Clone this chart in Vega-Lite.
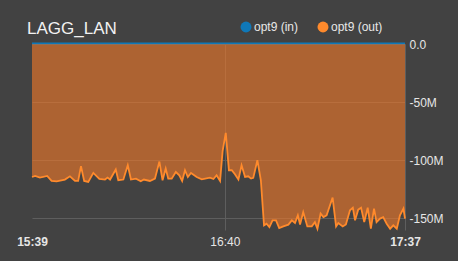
{
  "$schema": "https://vega.github.io/schema/vega-lite/v6.json",
  "autosize": "none",
  "width": 373,
  "height": 186,
  "padding": {"left": 32, "top": 44, "right": 53, "bottom": 31},
  "background": "#424242",
  "title": {
    "text": "LAGG_LAN",
    "anchor": "start",
    "frame": "group",
    "font": "Liberation Sans",
    "fontSize": 17,
    "fontWeight": "normal",
    "color": "#f2f2f2",
    "offset": 10,
    "dx": -5,
    "dy": 27
  },
  "data": {
    "values": [
      {"t": "2024-01-01T15:39:00", "s": "opt9 (in)", "v": 0.6},
      {"t": "2024-01-01T15:55:00", "s": "opt9 (in)", "v": 0.6},
      {"t": "2024-01-01T16:10:00", "s": "opt9 (in)", "v": 0.6},
      {"t": "2024-01-01T16:25:00", "s": "opt9 (in)", "v": 0.6},
      {"t": "2024-01-01T16:40:00", "s": "opt9 (in)", "v": 0.6},
      {"t": "2024-01-01T16:55:00", "s": "opt9 (in)", "v": 0.6},
      {"t": "2024-01-01T17:10:00", "s": "opt9 (in)", "v": 0.6},
      {"t": "2024-01-01T17:25:00", "s": "opt9 (in)", "v": 0.6},
      {"t": "2024-01-01T17:37:00", "s": "opt9 (in)", "v": 0.6},
      {"t": "2024-01-01T15:39:00", "s": "opt9 (out)", "v": -114.4},
      {"t": "2024-01-01T15:40:00", "s": "opt9 (out)", "v": -113.5},
      {"t": "2024-01-01T15:41:30", "s": "opt9 (out)", "v": -114.9},
      {"t": "2024-01-01T15:43:48", "s": "opt9 (out)", "v": -113.5},
      {"t": "2024-01-01T15:45:12", "s": "opt9 (out)", "v": -117.8},
      {"t": "2024-01-01T15:46:48", "s": "opt9 (out)", "v": -118.1},
      {"t": "2024-01-01T15:49:24", "s": "opt9 (out)", "v": -116.6},
      {"t": "2024-01-01T15:51:00", "s": "opt9 (out)", "v": -113.8},
      {"t": "2024-01-01T15:52:36", "s": "opt9 (out)", "v": -117.8},
      {"t": "2024-01-01T15:53:36", "s": "opt9 (out)", "v": -117.8},
      {"t": "2024-01-01T15:54:30", "s": "opt9 (out)", "v": -105.2},
      {"t": "2024-01-01T15:55:30", "s": "opt9 (out)", "v": -117.8},
      {"t": "2024-01-01T15:56:48", "s": "opt9 (out)", "v": -118.7},
      {"t": "2024-01-01T15:58:24", "s": "opt9 (out)", "v": -110.9},
      {"t": "2024-01-01T16:00:18", "s": "opt9 (out)", "v": -116.1},
      {"t": "2024-01-01T16:02:06", "s": "opt9 (out)", "v": -116.6},
      {"t": "2024-01-01T16:02:54", "s": "opt9 (out)", "v": -114.9},
      {"t": "2024-01-01T16:03:42", "s": "opt9 (out)", "v": -116.6},
      {"t": "2024-01-01T16:05:30", "s": "opt9 (out)", "v": -108.0},
      {"t": "2024-01-01T16:06:18", "s": "opt9 (out)", "v": -117.2},
      {"t": "2024-01-01T16:07:54", "s": "opt9 (out)", "v": -116.6},
      {"t": "2024-01-01T16:09:18", "s": "opt9 (out)", "v": -104.3},
      {"t": "2024-01-01T16:10:18", "s": "opt9 (out)", "v": -116.6},
      {"t": "2024-01-01T16:11:54", "s": "opt9 (out)", "v": -115.8},
      {"t": "2024-01-01T16:13:24", "s": "opt9 (out)", "v": -118.1},
      {"t": "2024-01-01T16:14:24", "s": "opt9 (out)", "v": -116.6},
      {"t": "2024-01-01T16:16:18", "s": "opt9 (out)", "v": -117.8},
      {"t": "2024-01-01T16:17:54", "s": "opt9 (out)", "v": -115.8},
      {"t": "2024-01-01T16:19:18", "s": "opt9 (out)", "v": -101.1},
      {"t": "2024-01-01T16:20:18", "s": "opt9 (out)", "v": -117.2},
      {"t": "2024-01-01T16:21:18", "s": "opt9 (out)", "v": -107.1},
      {"t": "2024-01-01T16:22:06", "s": "opt9 (out)", "v": -115.8},
      {"t": "2024-01-01T16:23:12", "s": "opt9 (out)", "v": -115.8},
      {"t": "2024-01-01T16:24:30", "s": "opt9 (out)", "v": -110.1},
      {"t": "2024-01-01T16:25:36", "s": "opt9 (out)", "v": -112.9},
      {"t": "2024-01-01T16:26:30", "s": "opt9 (out)", "v": -117.8},
      {"t": "2024-01-01T16:27:24", "s": "opt9 (out)", "v": -108.6},
      {"t": "2024-01-01T16:28:18", "s": "opt9 (out)", "v": -114.4},
      {"t": "2024-01-01T16:29:18", "s": "opt9 (out)", "v": -110.9},
      {"t": "2024-01-01T16:31:06", "s": "opt9 (out)", "v": -114.4},
      {"t": "2024-01-01T16:32:42", "s": "opt9 (out)", "v": -116.4},
      {"t": "2024-01-01T16:35:18", "s": "opt9 (out)", "v": -114.9},
      {"t": "2024-01-01T16:36:24", "s": "opt9 (out)", "v": -116.1},
      {"t": "2024-01-01T16:37:24", "s": "opt9 (out)", "v": -112.9},
      {"t": "2024-01-01T16:38:30", "s": "opt9 (out)", "v": -117.8},
      {"t": "2024-01-01T16:39:18", "s": "opt9 (out)", "v": -92.2},
      {"t": "2024-01-01T16:40:18", "s": "opt9 (out)", "v": -76.5},
      {"t": "2024-01-01T16:41:18", "s": "opt9 (out)", "v": -108.6},
      {"t": "2024-01-01T16:42:12", "s": "opt9 (out)", "v": -108.6},
      {"t": "2024-01-01T16:43:12", "s": "opt9 (out)", "v": -112.1},
      {"t": "2024-01-01T16:44:18", "s": "opt9 (out)", "v": -116.6},
      {"t": "2024-01-01T16:45:18", "s": "opt9 (out)", "v": -104.3},
      {"t": "2024-01-01T16:46:24", "s": "opt9 (out)", "v": -114.4},
      {"t": "2024-01-01T16:47:24", "s": "opt9 (out)", "v": -113.8},
      {"t": "2024-01-01T16:48:18", "s": "opt9 (out)", "v": -115.8},
      {"t": "2024-01-01T16:49:00", "s": "opt9 (out)", "v": -115.2},
      {"t": "2024-01-01T16:50:18", "s": "opt9 (out)", "v": -100.0},
      {"t": "2024-01-01T16:51:24", "s": "opt9 (out)", "v": -117.2},
      {"t": "2024-01-01T16:52:24", "s": "opt9 (out)", "v": -156.0},
      {"t": "2024-01-01T16:53:12", "s": "opt9 (out)", "v": -154.6},
      {"t": "2024-01-01T16:54:06", "s": "opt9 (out)", "v": -157.5},
      {"t": "2024-01-01T16:55:06", "s": "opt9 (out)", "v": -151.7},
      {"t": "2024-01-01T16:56:12", "s": "opt9 (out)", "v": -151.7},
      {"t": "2024-01-01T16:57:12", "s": "opt9 (out)", "v": -158.4},
      {"t": "2024-01-01T16:58:30", "s": "opt9 (out)", "v": -156.9},
      {"t": "2024-01-01T17:00:06", "s": "opt9 (out)", "v": -155.4},
      {"t": "2024-01-01T17:01:12", "s": "opt9 (out)", "v": -151.7},
      {"t": "2024-01-01T17:02:12", "s": "opt9 (out)", "v": -154.0},
      {"t": "2024-01-01T17:03:06", "s": "opt9 (out)", "v": -147.4},
      {"t": "2024-01-01T17:03:48", "s": "opt9 (out)", "v": -155.2},
      {"t": "2024-01-01T17:04:48", "s": "opt9 (out)", "v": -144.6},
      {"t": "2024-01-01T17:06:06", "s": "opt9 (out)", "v": -156.9},
      {"t": "2024-01-01T17:07:30", "s": "opt9 (out)", "v": -156.9},
      {"t": "2024-01-01T17:08:30", "s": "opt9 (out)", "v": -153.2},
      {"t": "2024-01-01T17:09:18", "s": "opt9 (out)", "v": -158.9},
      {"t": "2024-01-01T17:10:18", "s": "opt9 (out)", "v": -145.9},
      {"t": "2024-01-01T17:11:12", "s": "opt9 (out)", "v": -148.9},
      {"t": "2024-01-01T17:12:12", "s": "opt9 (out)", "v": -147.4},
      {"t": "2024-01-01T17:14:06", "s": "opt9 (out)", "v": -132.1},
      {"t": "2024-01-01T17:15:12", "s": "opt9 (out)", "v": -156.9},
      {"t": "2024-01-01T17:15:54", "s": "opt9 (out)", "v": -154.0},
      {"t": "2024-01-01T17:17:18", "s": "opt9 (out)", "v": -156.9},
      {"t": "2024-01-01T17:18:18", "s": "opt9 (out)", "v": -155.2},
      {"t": "2024-01-01T17:19:36", "s": "opt9 (out)", "v": -143.1},
      {"t": "2024-01-01T17:20:30", "s": "opt9 (out)", "v": -140.8},
      {"t": "2024-01-01T17:21:12", "s": "opt9 (out)", "v": -151.7},
      {"t": "2024-01-01T17:22:12", "s": "opt9 (out)", "v": -142.5},
      {"t": "2024-01-01T17:23:06", "s": "opt9 (out)", "v": -140.8},
      {"t": "2024-01-01T17:24:06", "s": "opt9 (out)", "v": -153.2},
      {"t": "2024-01-01T17:25:12", "s": "opt9 (out)", "v": -140.8},
      {"t": "2024-01-01T17:26:12", "s": "opt9 (out)", "v": -158.9},
      {"t": "2024-01-01T17:27:12", "s": "opt9 (out)", "v": -141.6},
      {"t": "2024-01-01T17:28:00", "s": "opt9 (out)", "v": -153.2},
      {"t": "2024-01-01T17:29:06", "s": "opt9 (out)", "v": -150.2},
      {"t": "2024-01-01T17:30:06", "s": "opt9 (out)", "v": -148.9},
      {"t": "2024-01-01T17:31:12", "s": "opt9 (out)", "v": -154.6},
      {"t": "2024-01-01T17:32:18", "s": "opt9 (out)", "v": -158.9},
      {"t": "2024-01-01T17:33:18", "s": "opt9 (out)", "v": -156.0},
      {"t": "2024-01-01T17:34:24", "s": "opt9 (out)", "v": -158.9},
      {"t": "2024-01-01T17:35:24", "s": "opt9 (out)", "v": -147.4},
      {"t": "2024-01-01T17:36:30", "s": "opt9 (out)", "v": -141.6},
      {"t": "2024-01-01T17:37:00", "s": "opt9 (out)", "v": -150.2}
    ]
  },
  "encoding": {
    "x": {
      "field": "t",
      "type": "temporal",
      "title": null,
      "scale": {
        "domain": [
          {"year": 2024, "month": 1, "date": 1, "hours": 15, "minutes": 39},
          {"year": 2024, "month": 1, "date": 1, "hours": 17, "minutes": 37}
        ]
      },
      "axis": {
        "values": [
          {"year": 2024, "month": 1, "date": 1, "hours": 15, "minutes": 39},
          {"year": 2024, "month": 1, "date": 1, "hours": 16, "minutes": 40},
          {"year": 2024, "month": 1, "date": 1, "hours": 17, "minutes": 37}
        ],
        "format": "%H:%M",
        "labelFontWeight": {"condition": {"test": "datum.index > 0.2 && datum.index < 0.8", "value": "normal"}, "value": "bold"},
        "gridOpacity": {"condition": {"test": "datum.index < 0.2", "value": 0}, "value": 1},
        "labelPadding": 6,
        "labelFlush": false,
        "labelOverlap": false
      }
    },
    "y": {
      "field": "v",
      "type": "quantitative",
      "title": null,
      "scale": {"domain": [-160, 0], "nice": false},
      "axis": {
        "orient": "right",
        "values": [0, -50, -100, -150],
        "labelExpr": "datum.value == 0 ? '0.0' : datum.value + 'M'",
        "labelPadding": 4
      }
    }
  },
  "layer": [
    {
      "transform": [{"filter": "datum.s == 'opt9 (out)'"}],
      "mark": {"type": "area", "color": "#f57a28", "opacity": 0.6, "clip": true}
    },
    {
      "mark": {"type": "line", "strokeWidth": 1.8},
      "encoding": {
        "color": {
          "field": "s",
          "type": "nominal",
          "scale": {"domain": ["opt9 (in)", "opt9 (out)"], "range": ["#0f78b8", "#ff8a2c"]},
          "legend": {
            "orient": "none",
            "legendX": 208,
            "legendY": -23,
            "direction": "horizontal",
            "title": null,
            "symbolType": "circle",
            "symbolSize": 120,
            "symbolStrokeWidth": 0,
            "symbolOpacity": 1,
            "labelFont": "Liberation Sans",
            "labelFontSize": 12,
            "labelColor": "#e8e8e8",
            "labelOffset": 2,
            "columnPadding": 18,
            "padding": 0,
            "encode": {
              "symbols": {
                "update": {
                  "fill": {"scale": "color", "field": "value"},
                  "stroke": {"value": "transparent"},
                  "opacity": {"value": 1}
                }
              }
            }
          }
        }
      }
    }
  ],
  "config": {
    "view": {"stroke": null},
    "axis": {
      "domain": false,
      "ticks": false,
      "tickSize": 0,
      "grid": true,
      "gridColor": "#5e5e5e",
      "gridWidth": 1,
      "labelColor": "#e6e6e6",
      "labelFont": "Liberation Sans",
      "labelFontSize": 12
    }
  }
}
